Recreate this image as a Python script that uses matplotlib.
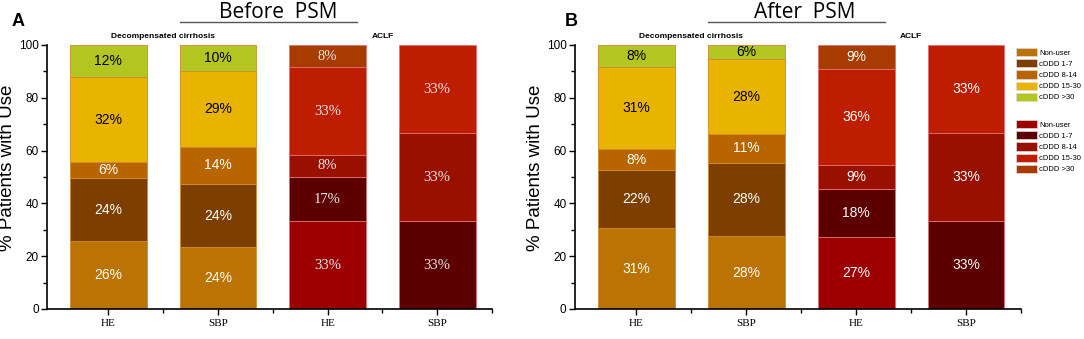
import matplotlib.pyplot as plt
from matplotlib.patches import Patch
import numpy as np

plt.rcParams['font.family'] = ['Liberation Sans', 'DejaVu Sans']

# data (segment heights in %, bottom to top: Non-user, cDDD 1-7, 8-14, 15-30, >30)
levels = ['Non-user', 'cDDD 1-7', 'cDDD 8-14', 'cDDD 15-30', 'cDDD >30']
bar_labels = ['HE', 'SBP', 'HE', 'SBP']

before_dec_he = [25.7, 23.9, 5.9, 32.4, 12.1]
before_dec_sbp = [23.4, 23.9, 14.1, 28.8, 9.8]
before_aclf_he = [33.3, 16.7, 8.3, 33.3, 8.4]
before_aclf_sbp = [0, 33.3, 33.3, 33.4, 0]

after_dec_he = [30.5, 22.0, 8.0, 31.0, 8.5]
after_dec_sbp = [27.6, 27.8, 11.0, 28.1, 5.5]
after_aclf_he = [27.3, 18.2, 9.1, 36.4, 9.0]
after_aclf_sbp = [0, 33.3, 33.3, 33.4, 0]

before_txt_dec_he = ['26%', '24%', '6%', '32%', '12%']
before_txt_dec_sbp = ['24%', '24%', '14%', '29%', '10%']
before_txt_aclf_he = ['33%', '17%', '8%', '33%', '8%']
before_txt_aclf_sbp = ['', '33%', '33%', '33%', '']
after_txt_dec_he = ['31%', '22%', '8%', '31%', '8%']
after_txt_dec_sbp = ['28%', '28%', '11%', '28%', '6%']
after_txt_aclf_he = ['27%', '18%', '9%', '36%', '9%']
after_txt_aclf_sbp = ['', '33%', '33%', '33%', '']

dec_colors = ['#bb7304', '#7c3f00', '#b86500', '#e8b400', '#b2c520']
aclf_colors = ['#9c0000', '#5c0000', '#9a1000', '#be1d00', '#a83c00']
dec_txt = ['white', 'white', 'white', 'black', 'black']

fig = plt.figure(figsize=(10.84, 3.39), dpi=100)


def draw_panel(ax, bars, texts, aclf_serif):
    xs = np.arange(4)
    for i, (vals, labs) in enumerate(zip(bars, texts)):
        cols = dec_colors if i < 2 else aclf_colors
        edge = '#d08a30' if i < 2 else '#e07070'
        bottom = 0
        for k, v in enumerate(vals):
            if v > 0:
                ax.bar(xs[i], v, 0.7, bottom=bottom, color=cols[k],
                       edgecolor=edge, linewidth=0.6)
                if labs[k]:
                    if i < 2:
                        ax.text(xs[i], bottom + v / 2, labs[k], ha='center', va='center',
                                fontsize=10, color=dec_txt[k])
                    elif aclf_serif:
                        ax.text(xs[i], bottom + v / 2, labs[k], ha='center', va='center',
                                fontsize=10.5, color='#e8e8e8', family='Liberation Serif')
                    else:
                        ax.text(xs[i], bottom + v / 2, labs[k], ha='center', va='center',
                                fontsize=10, color='white')
            bottom += v
    ax.set_xlim(-0.56, 3.5)
    ax.set_ylim(0, 100)
    ax.set_yticks([0, 20, 40, 60, 80, 100])
    ax.set_yticks([10, 30, 50, 70, 90], minor=True)
    ax.set_xticks(xs)
    ax.set_xticks([0.5, 1.5, 2.5, 3.5], minor=True)
    ax.set_xticklabels(bar_labels, family='Liberation Serif', fontsize=8)
    ax.tick_params(axis='y', labelsize=8.5, length=4, width=1, pad=2)
    ax.tick_params(axis='x', length=4, width=1, pad=3)
    ax.tick_params(which='minor', length=3, width=1)
    for s in ['top', 'right']:
        ax.spines[s].set_visible(False)
    for s in ['left', 'bottom']:
        ax.spines[s].set_linewidth(1.2)
    ax.set_ylabel('% Patients with Use', fontsize=13.5)
    ax.yaxis.set_label_coords(-0.07, 0.535)
    ax.text(0.5, 102, 'Decompensated cirrhosis', ha='center', va='bottom', fontsize=6,
            fontweight='bold')
    ax.text(2.5, 102, 'ACLF', ha='center', va='bottom', fontsize=6, fontweight='bold')


axA = fig.add_axes([0.0434, 0.0885, 0.4105, 0.779])
draw_panel(axA, [before_dec_he, before_dec_sbp, before_aclf_he, before_aclf_sbp],
           [before_txt_dec_he, before_txt_dec_sbp, before_txt_aclf_he, before_txt_aclf_sbp], True)
axB = fig.add_axes([0.5304, 0.0885, 0.4114, 0.779])
draw_panel(axB, [after_dec_he, after_dec_sbp, after_aclf_he, after_aclf_sbp],
           [after_txt_dec_he, after_txt_dec_sbp, after_txt_aclf_he, after_txt_aclf_sbp], False)

# panel letters, titles
fig.text(12 / 1084, 1 - 21 / 339, 'A', fontsize=13, fontweight='bold', va='center', ha='left')
fig.text(565 / 1084, 1 - 21 / 339, 'B', fontsize=13, fontweight='bold', va='center', ha='left')
fig.text(278 / 1084, 1 - 12 / 339, 'Before  PSM', fontsize=15, ha='center', va='center',
         family='Open Sans', fontweight='medium')
fig.text(805 / 1084, 1 - 12 / 339, 'After  PSM', fontsize=15, ha='center', va='center',
         family='Open Sans', fontweight='medium')
fig.add_artist(plt.Line2D([180 / 1084, 357 / 1084], [1 - 22 / 339] * 2, color='#555555', lw=1))
fig.add_artist(plt.Line2D([708 / 1084, 885 / 1084], [1 - 22 / 339] * 2, color='#555555', lw=1))

# legends
h1 = [Patch(facecolor=c, edgecolor='#dddddd', lw=0.5) for c in dec_colors]
h2 = [Patch(facecolor=c, edgecolor='#dddddd', lw=0.5) for c in aclf_colors]
leg_kw = dict(frameon=False, fontsize=5.5, handlelength=2.7, handleheight=1.3,
              labelspacing=0.32, handletextpad=0.3, borderpad=0, borderaxespad=0)
fig.legend(h1, levels, loc='upper left', bbox_to_anchor=(1016 / 1084, 1 - 48 / 339), **leg_kw)
fig.legend(h2, levels, loc='upper left', bbox_to_anchor=(1016 / 1084, 1 - 120 / 339), **leg_kw)

fig.savefig('out.png', dpi=100)
